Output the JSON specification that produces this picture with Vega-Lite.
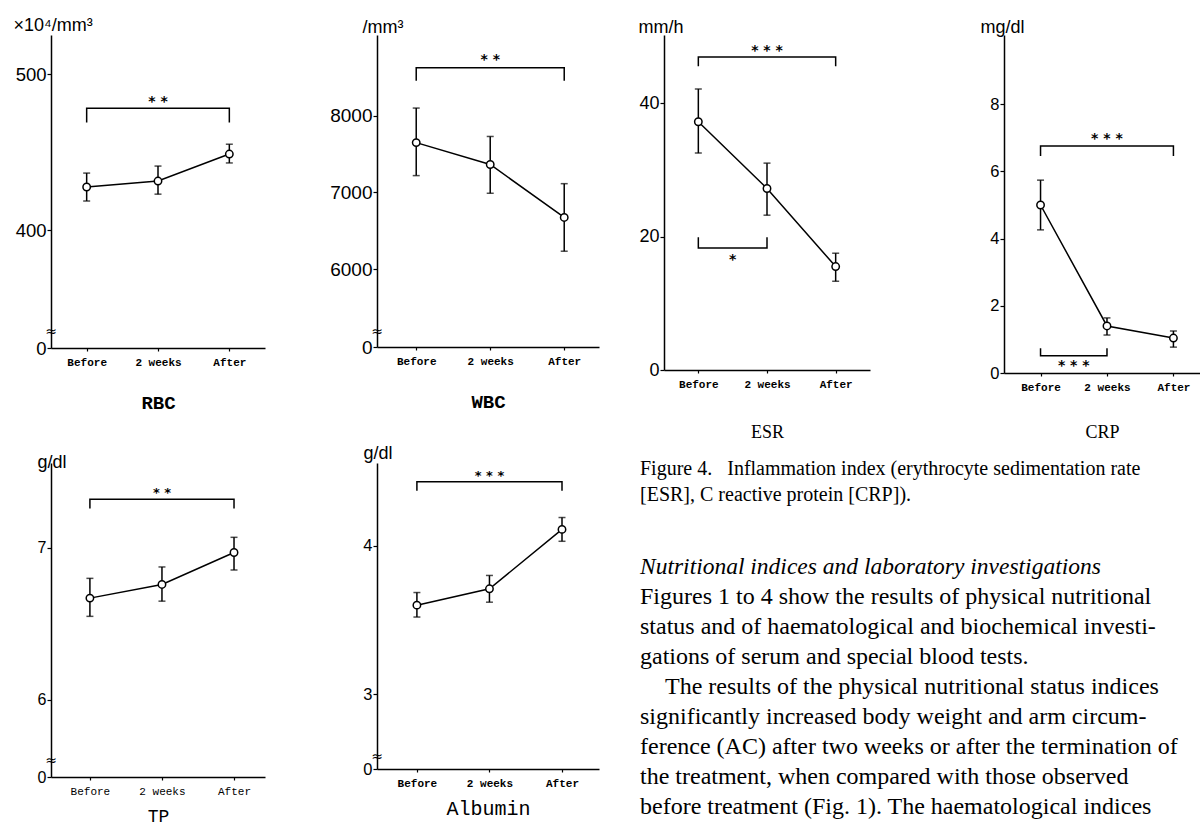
{
"$schema": "https://vega.github.io/schema/vega-lite/v6.json",
"padding": {"left": 13, "top": 16, "right": 0, "bottom": 0},
"background": "white",
"config": {
  "view": {"stroke": null},
  "axis": {"grid": false, "domainColor": "black", "domainWidth": 1.5, "tickColor": "black", "tickWidth": 1.2, "labelColor": "black", "titleColor": "black", "labelFont": "Liberation Sans", "titleFont": "Liberation Sans", "titleFontWeight": "normal"},
  "axisY": {"tickSize": 4, "labelPadding": 1, "labelFontSize": 18, "titleAngle": 0, "titleAlign": "left", "titleBaseline": "middle", "titleFontSize": 18},
  "axisX": {"tickSize": 3, "labelPadding": 5, "labelFont": "Liberation Mono", "labelFontWeight": "bold", "labelFontSize": 11, "labelBaseline": "top", "labelFlush": false}
},
"datasets": {
  "pts": [
    {"p": "RBC", "t": 0, "y": 427.6}, {"p": "RBC", "t": 1, "y": 431.4}, {"p": "RBC", "t": 2, "y": 448.7},
    {"p": "WBC", "t": 0, "y": 7650}, {"p": "WBC", "t": 1, "y": 7365}, {"p": "WBC", "t": 2, "y": 6675},
    {"p": "ESR", "t": 0, "y": 37.2}, {"p": "ESR", "t": 1, "y": 27.2}, {"p": "ESR", "t": 2, "y": 15.5},
    {"p": "CRP", "t": 0, "y": 5.0}, {"p": "CRP", "t": 1, "y": 1.4}, {"p": "CRP", "t": 2, "y": 1.04},
    {"p": "TP", "t": 0, "y": 6.67}, {"p": "TP", "t": 1, "y": 6.76}, {"p": "TP", "t": 2, "y": 6.97},
    {"p": "ALB", "t": 0, "y": 3.6}, {"p": "ALB", "t": 1, "y": 3.71}, {"p": "ALB", "t": 2, "y": 4.11}
  ],
  "eb": [
    {"p": "RBC", "t": 0, "y": 418.6, "y2": 436.5}, {"p": "RBC", "t": 1, "y": 423, "y2": 441}, {"p": "RBC", "t": 2, "y": 443, "y2": 455},
    {"p": "WBC", "t": 0, "y": 7220, "y2": 8100}, {"p": "WBC", "t": 1, "y": 6990, "y2": 7730}, {"p": "WBC", "t": 2, "y": 6235, "y2": 7115},
    {"p": "ESR", "t": 0, "y": 32.5, "y2": 42.1}, {"p": "ESR", "t": 1, "y": 23.2, "y2": 31.0}, {"p": "ESR", "t": 2, "y": 13.3, "y2": 17.5},
    {"p": "CRP", "t": 0, "y": 4.26, "y2": 5.74}, {"p": "CRP", "t": 1, "y": 1.13, "y2": 1.64}, {"p": "CRP", "t": 2, "y": 0.77, "y2": 1.25},
    {"p": "TP", "t": 0, "y": 6.55, "y2": 6.8}, {"p": "TP", "t": 1, "y": 6.65, "y2": 6.875}, {"p": "TP", "t": 2, "y": 6.855, "y2": 7.07},
    {"p": "ALB", "t": 0, "y": 3.52, "y2": 3.685}, {"p": "ALB", "t": 1, "y": 3.62, "y2": 3.8}, {"p": "ALB", "t": 2, "y": 4.03, "y2": 4.19}
  ],
  "br": [
    {"p": "RBC", "b": 1, "k": 0, "t": 0, "y": 469}, {"p": "RBC", "b": 1, "k": 1, "t": 0, "y": 478}, {"p": "RBC", "b": 1, "k": 2, "t": 2, "y": 478}, {"p": "RBC", "b": 1, "k": 3, "t": 2, "y": 469},
    {"p": "WBC", "b": 1, "k": 0, "t": 0, "y": 8455}, {"p": "WBC", "b": 1, "k": 1, "t": 0, "y": 8625}, {"p": "WBC", "b": 1, "k": 2, "t": 2, "y": 8625}, {"p": "WBC", "b": 1, "k": 3, "t": 2, "y": 8455},
    {"p": "ESR", "b": 1, "k": 0, "t": 0, "y": 45.5}, {"p": "ESR", "b": 1, "k": 1, "t": 0, "y": 46.9}, {"p": "ESR", "b": 1, "k": 2, "t": 2, "y": 46.9}, {"p": "ESR", "b": 1, "k": 3, "t": 2, "y": 45.5},
    {"p": "ESR", "b": 2, "k": 0, "t": 0, "y": 19.9}, {"p": "ESR", "b": 2, "k": 1, "t": 0, "y": 18.3}, {"p": "ESR", "b": 2, "k": 2, "t": 1, "y": 18.3}, {"p": "ESR", "b": 2, "k": 3, "t": 1, "y": 19.9},
    {"p": "CRP", "b": 1, "k": 0, "t": 0, "y": 6.46}, {"p": "CRP", "b": 1, "k": 1, "t": 0, "y": 6.76}, {"p": "CRP", "b": 1, "k": 2, "t": 2, "y": 6.76}, {"p": "CRP", "b": 1, "k": 3, "t": 2, "y": 6.46},
    {"p": "CRP", "b": 2, "k": 0, "t": 0, "y": 0.74}, {"p": "CRP", "b": 2, "k": 1, "t": 0, "y": 0.51}, {"p": "CRP", "b": 2, "k": 2, "t": 1, "y": 0.51}, {"p": "CRP", "b": 2, "k": 3, "t": 1, "y": 0.74},
    {"p": "TP", "b": 1, "k": 0, "t": 0, "y": 7.26}, {"p": "TP", "b": 1, "k": 1, "t": 0, "y": 7.32}, {"p": "TP", "b": 1, "k": 2, "t": 2, "y": 7.32}, {"p": "TP", "b": 1, "k": 3, "t": 2, "y": 7.26},
    {"p": "ALB", "b": 1, "k": 0, "t": 0, "y": 4.37}, {"p": "ALB", "b": 1, "k": 1, "t": 0, "y": 4.43}, {"p": "ALB", "b": 1, "k": 2, "t": 2, "y": 4.43}, {"p": "ALB", "b": 1, "k": 3, "t": 2, "y": 4.37}
  ],
  "st": [
    {"p": "RBC", "t": 1, "y": 482, "s": "* *"},
    {"p": "WBC", "t": 1, "y": 8720, "s": "* *"},
    {"p": "ESR", "t": 1, "y": 47.8, "s": "* * *"},
    {"p": "ESR", "t": 0.5, "y": 16.5, "s": "*"},
    {"p": "CRP", "t": 1, "y": 6.96, "s": "* * *"},
    {"p": "CRP", "t": 0.5, "y": 0.21, "s": "* * *"},
    {"p": "TP", "t": 1, "y": 7.36, "s": "* *"},
    {"p": "ALB", "t": 1, "y": 4.47, "s": "* * *"}
  ],
  "brk": [
    {"p": "RBC", "t": -0.5, "y": 334.6},
    {"p": "WBC", "t": -0.53, "y": 5182},
    {"p": "TP", "t": -0.54, "y": 5.6},
    {"p": "ALB", "t": -0.55, "y": 2.58}
  ],
  "txt": [
    {"line": 0, "style": "italic", "text": "Nutritional indices and laboratory investigations"},
    {"line": 1, "style": "normal", "text": "Figures 1 to 4 show the results of physical nutritional"},
    {"line": 2, "style": "normal", "text": "status and of haematological and biochemical investi-"},
    {"line": 3, "style": "normal", "text": "gations of serum and special blood tests."},
    {"line": 4, "style": "indent", "text": "The results of the physical nutritional status indices"},
    {"line": 5, "style": "normal", "text": "significantly increased body weight and arm circum-"},
    {"line": 6, "style": "normal", "text": "ference (AC) after two weeks or after the termination of"},
    {"line": 7, "style": "normal", "text": "the treatment, when compared with those observed"},
    {"line": 8, "style": "normal", "text": "before treatment (Fig. 1). The haematological indices"}
  ]
},
"columns": 8,
"bounds": "flush",
"align": "each",
"spacing": {"row": 90, "column": 0},
"concat": [
  {
    "width": 214, "height": 313,
    "encoding": {
      "x": {"field": "t", "type": "quantitative", "scale": {"domain": [-0.5, 2.5], "nice": false, "zero": false}, "axis": {"values": [0, 1, 2], "labelExpr": "['Before','2 weeks','After'][datum.value]", "title": "RBC", "titleFont": "Liberation Mono", "titleFontSize": 19, "titleFontWeight": "bold", "titlePadding": 26}},
      "y": {"field": "y", "type": "quantitative", "scale": {"domain": [324.4, 525], "nice": false, "zero": false}, "axis": {"values": [324.4, 400, 500], "labelExpr": "datum.value<390?'0':format(datum.value,'d')", "title": "×10⁴/mm³", "titleX": -38, "titleY": -10, "labelFontSize": 18.5}}
    },
    "layer": [
      {"data": {"name": "eb"}, "transform": [{"filter": "datum.p==='RBC'"}], "mark": {"type": "rule", "color": "black", "strokeWidth": 1.5}, "encoding": {"y2": {"field": "y2"}}},
      {"data": {"name": "eb"}, "transform": [{"filter": "datum.p==='RBC'"}, {"fold": ["y", "y2"], "as": ["cap", "y"]}], "mark": {"type": "tick", "orient": "horizontal", "size": 7, "thickness": 1.5, "color": "black"}},
      {"data": {"name": "pts"}, "transform": [{"filter": "datum.p==='RBC'"}], "mark": {"type": "line", "color": "black", "strokeWidth": 1.5}},
      {"data": {"name": "pts"}, "transform": [{"filter": "datum.p==='RBC'"}], "mark": {"type": "point", "shape": "circle", "filled": true, "fill": "white", "stroke": "black", "strokeWidth": 1.5, "size": 55, "opacity": 1}},
      {"data": {"name": "br"}, "transform": [{"filter": "datum.p==='RBC'"}], "mark": {"type": "line", "color": "black", "strokeWidth": 1.5}, "encoding": {"detail": {"field": "b"}, "order": {"field": "k"}}},
      {"data": {"name": "st"}, "transform": [{"filter": "datum.p==='RBC'"}], "mark": {"type": "text", "font": "DejaVu Sans", "fontWeight": "bold", "fontSize": 14, "baseline": "middle", "color": "black"}, "encoding": {"text": {"field": "s"}}},
      {"data": {"name": "brk"}, "transform": [{"filter": "datum.p==='RBC'"}], "mark": {"type": "text", "font": "DejaVu Sans", "fontSize": 14, "baseline": "middle", "color": "black"}, "encoding": {"text": {"value": "≈"}}}
    ]
  },
  {"width": 112, "height": 10, "data": {"values": []}, "mark": "point"},
  {
    "width": 222, "height": 312,
    "encoding": {
      "x": {"field": "t", "type": "quantitative", "scale": {"domain": [-0.53, 2.47], "nice": false, "zero": false}, "axis": {"values": [0, 1, 2], "labelExpr": "['Before','2 weeks','After'][datum.value]", "title": "WBC", "titleFont": "Liberation Mono", "titleFontSize": 19, "titleFontWeight": "bold", "titlePadding": 26}},
      "y": {"field": "y", "type": "quantitative", "scale": {"domain": [4987, 9052], "nice": false, "zero": false}, "axis": {"values": [4987, 6000, 7000, 8000], "labelExpr": "datum.value<5500?'0':format(datum.value,'d')", "title": "/mm³", "titleX": -15, "titleY": -8, "labelFontSize": 19}}
    },
    "layer": [
      {"data": {"name": "eb"}, "transform": [{"filter": "datum.p==='WBC'"}], "mark": {"type": "rule", "color": "black", "strokeWidth": 1.5}, "encoding": {"y2": {"field": "y2"}}},
      {"data": {"name": "eb"}, "transform": [{"filter": "datum.p==='WBC'"}, {"fold": ["y", "y2"], "as": ["cap", "y"]}], "mark": {"type": "tick", "orient": "horizontal", "size": 7, "thickness": 1.5, "color": "black"}},
      {"data": {"name": "pts"}, "transform": [{"filter": "datum.p==='WBC'"}], "mark": {"type": "line", "color": "black", "strokeWidth": 1.5}},
      {"data": {"name": "pts"}, "transform": [{"filter": "datum.p==='WBC'"}], "mark": {"type": "point", "shape": "circle", "filled": true, "fill": "white", "stroke": "black", "strokeWidth": 1.5, "size": 55, "opacity": 1}},
      {"data": {"name": "br"}, "transform": [{"filter": "datum.p==='WBC'"}], "mark": {"type": "line", "color": "black", "strokeWidth": 1.5}, "encoding": {"detail": {"field": "b"}, "order": {"field": "k"}}},
      {"data": {"name": "st"}, "transform": [{"filter": "datum.p==='WBC'"}], "mark": {"type": "text", "font": "DejaVu Sans", "fontWeight": "bold", "fontSize": 14, "baseline": "middle", "color": "black"}, "encoding": {"text": {"field": "s"}}},
      {"data": {"name": "brk"}, "transform": [{"filter": "datum.p==='WBC'"}], "mark": {"type": "text", "font": "DejaVu Sans", "fontSize": 14, "baseline": "middle", "color": "black"}, "encoding": {"text": {"value": "≈"}}}
    ]
  },
  {"width": 41, "height": 10, "data": {"values": []}, "mark": "point"},
  {"width": 24, "height": 10, "data": {"values": []}, "mark": "point"},
  {
    "width": 206, "height": 335,
    "encoding": {
      "x": {"field": "t", "type": "quantitative", "scale": {"domain": [-0.5, 2.5], "nice": false, "zero": false}, "axis": {"values": [0, 1, 2], "labelExpr": "['Before','2 weeks','After'][datum.value]", "title": "ESR", "titleFont": "Liberation Serif", "titleFontSize": 18, "titleFontWeight": "normal", "titlePadding": 34}},
      "y": {"field": "y", "type": "quantitative", "scale": {"domain": [0, 50.2], "nice": false, "zero": false}, "axis": {"values": [0, 20, 40], "labelExpr": "format(datum.value,'d')", "title": "mm/h", "titleX": -26, "titleY": -8}}
    },
    "layer": [
      {"data": {"name": "eb"}, "transform": [{"filter": "datum.p==='ESR'"}], "mark": {"type": "rule", "color": "black", "strokeWidth": 1.5}, "encoding": {"y2": {"field": "y2"}}},
      {"data": {"name": "eb"}, "transform": [{"filter": "datum.p==='ESR'"}, {"fold": ["y", "y2"], "as": ["cap", "y"]}], "mark": {"type": "tick", "orient": "horizontal", "size": 7, "thickness": 1.5, "color": "black"}},
      {"data": {"name": "pts"}, "transform": [{"filter": "datum.p==='ESR'"}], "mark": {"type": "line", "color": "black", "strokeWidth": 1.5}},
      {"data": {"name": "pts"}, "transform": [{"filter": "datum.p==='ESR'"}], "mark": {"type": "point", "shape": "circle", "filled": true, "fill": "white", "stroke": "black", "strokeWidth": 1.5, "size": 55, "opacity": 1}},
      {"data": {"name": "br"}, "transform": [{"filter": "datum.p==='ESR'"}], "mark": {"type": "line", "color": "black", "strokeWidth": 1.5}, "encoding": {"detail": {"field": "b"}, "order": {"field": "k"}}},
      {"data": {"name": "st"}, "transform": [{"filter": "datum.p==='ESR'"}], "mark": {"type": "text", "font": "DejaVu Sans", "fontWeight": "bold", "fontSize": 14, "baseline": "middle", "color": "black"}, "encoding": {"text": {"field": "s"}}}
    ]
  },
  {"width": 134, "height": 10, "data": {"values": []}, "mark": "point"},
  {
    "width": 196, "height": 338,
    "encoding": {
      "x": {"field": "t", "type": "quantitative", "scale": {"domain": [-0.55, 2.4], "nice": false, "zero": false}, "axis": {"values": [0, 1, 2], "labelExpr": "['Before','2 weeks','After'][datum.value]", "title": "CRP", "titleFont": "Liberation Serif", "titleFontSize": 18, "titleFontWeight": "normal", "titlePadding": 31}},
      "y": {"field": "y", "type": "quantitative", "scale": {"domain": [0, 10.06], "nice": false, "zero": false}, "axis": {"values": [0, 2, 4, 6, 8], "labelExpr": "format(datum.value,'d')", "title": "mg/dl", "titleX": -24, "titleY": -8, "labelFontSize": 16.5}}
    },
    "layer": [
      {"data": {"name": "eb"}, "transform": [{"filter": "datum.p==='CRP'"}], "mark": {"type": "rule", "color": "black", "strokeWidth": 1.5}, "encoding": {"y2": {"field": "y2"}}},
      {"data": {"name": "eb"}, "transform": [{"filter": "datum.p==='CRP'"}, {"fold": ["y", "y2"], "as": ["cap", "y"]}], "mark": {"type": "tick", "orient": "horizontal", "size": 7, "thickness": 1.5, "color": "black"}},
      {"data": {"name": "pts"}, "transform": [{"filter": "datum.p==='CRP'"}], "mark": {"type": "line", "color": "black", "strokeWidth": 1.5}},
      {"data": {"name": "pts"}, "transform": [{"filter": "datum.p==='CRP'"}], "mark": {"type": "point", "shape": "circle", "filled": true, "fill": "white", "stroke": "black", "strokeWidth": 1.5, "size": 55, "opacity": 1}},
      {"data": {"name": "br"}, "transform": [{"filter": "datum.p==='CRP'"}], "mark": {"type": "line", "color": "black", "strokeWidth": 1.5}, "encoding": {"detail": {"field": "b"}, "order": {"field": "k"}}},
      {"data": {"name": "st"}, "transform": [{"filter": "datum.p==='CRP'"}], "mark": {"type": "text", "font": "DejaVu Sans", "fontWeight": "bold", "fontSize": 14, "baseline": "middle", "color": "black"}, "encoding": {"text": {"field": "s"}}}
    ]
  },
  {
    "width": 214, "height": 314,
    "encoding": {
      "x": {"field": "t", "type": "quantitative", "scale": {"domain": [-0.54, 2.43], "nice": false, "zero": false}, "axis": {"values": [0, 1, 2], "labelExpr": "['Before','2 weeks','After'][datum.value]", "title": "TP", "titleFont": "Liberation Mono", "titleFontSize": 18, "titleFontWeight": "normal", "titlePadding": 11, "labelFontWeight": "normal"}},
      "y": {"field": "y", "type": "quantitative", "scale": {"domain": [5.493, 7.559], "nice": false, "zero": false}, "axis": {"values": [5.493, 6, 7], "labelExpr": "datum.value<5.9?'0':format(datum.value,'d')", "title": "g/dl", "titleX": -14, "titleY": -1, "labelFontSize": 16}}
    },
    "layer": [
      {"data": {"name": "eb"}, "transform": [{"filter": "datum.p==='TP'"}], "mark": {"type": "rule", "color": "black", "strokeWidth": 1.5}, "encoding": {"y2": {"field": "y2"}}},
      {"data": {"name": "eb"}, "transform": [{"filter": "datum.p==='TP'"}, {"fold": ["y", "y2"], "as": ["cap", "y"]}], "mark": {"type": "tick", "orient": "horizontal", "size": 7, "thickness": 1.5, "color": "black"}},
      {"data": {"name": "pts"}, "transform": [{"filter": "datum.p==='TP'"}], "mark": {"type": "line", "color": "black", "strokeWidth": 1.5}},
      {"data": {"name": "pts"}, "transform": [{"filter": "datum.p==='TP'"}], "mark": {"type": "point", "shape": "circle", "filled": true, "fill": "white", "stroke": "black", "strokeWidth": 1.5, "size": 55, "opacity": 1}},
      {"data": {"name": "br"}, "transform": [{"filter": "datum.p==='TP'"}], "mark": {"type": "line", "color": "black", "strokeWidth": 1.5}, "encoding": {"detail": {"field": "b"}, "order": {"field": "k"}}},
      {"data": {"name": "st"}, "transform": [{"filter": "datum.p==='TP'"}], "mark": {"type": "text", "font": "DejaVu Sans", "fontWeight": "bold", "fontSize": 13, "baseline": "middle", "color": "black"}, "encoding": {"text": {"field": "s"}}},
      {"data": {"name": "brk"}, "transform": [{"filter": "datum.p==='TP'"}], "mark": {"type": "text", "font": "DejaVu Sans", "fontSize": 14, "baseline": "middle", "color": "black"}, "encoding": {"text": {"value": "≈"}}}
    ]
  },
  {"width": 112, "height": 10, "data": {"values": []}, "mark": "point"},
  {
    "width": 222, "height": 306,
    "encoding": {
      "x": {"field": "t", "type": "quantitative", "scale": {"domain": [-0.55, 2.51], "nice": false, "zero": false}, "axis": {"values": [0, 1, 2], "labelExpr": "['Before','2 weeks','After'][datum.value]", "title": "Albumin", "titleFont": "Liberation Mono", "titleFontSize": 20, "titleFontWeight": "normal", "titlePadding": 10}},
      "y": {"field": "y", "type": "quantitative", "scale": {"domain": [2.497, 4.557], "nice": false, "zero": false}, "axis": {"values": [2.497, 3, 4], "labelExpr": "datum.value<2.9?'0':format(datum.value,'d')", "title": "g/dl", "titleX": -14, "titleY": -10, "labelFontSize": 16.5}}
    },
    "layer": [
      {"data": {"name": "eb"}, "transform": [{"filter": "datum.p==='ALB'"}], "mark": {"type": "rule", "color": "black", "strokeWidth": 1.5}, "encoding": {"y2": {"field": "y2"}}},
      {"data": {"name": "eb"}, "transform": [{"filter": "datum.p==='ALB'"}, {"fold": ["y", "y2"], "as": ["cap", "y"]}], "mark": {"type": "tick", "orient": "horizontal", "size": 7, "thickness": 1.5, "color": "black"}},
      {"data": {"name": "pts"}, "transform": [{"filter": "datum.p==='ALB'"}], "mark": {"type": "line", "color": "black", "strokeWidth": 1.5}},
      {"data": {"name": "pts"}, "transform": [{"filter": "datum.p==='ALB'"}], "mark": {"type": "point", "shape": "circle", "filled": true, "fill": "white", "stroke": "black", "strokeWidth": 1.5, "size": 55, "opacity": 1}},
      {"data": {"name": "br"}, "transform": [{"filter": "datum.p==='ALB'"}], "mark": {"type": "line", "color": "black", "strokeWidth": 1.5}, "encoding": {"detail": {"field": "b"}, "order": {"field": "k"}}},
      {"data": {"name": "st"}, "transform": [{"filter": "datum.p==='ALB'"}], "mark": {"type": "text", "font": "DejaVu Sans", "fontWeight": "bold", "fontSize": 13, "baseline": "middle", "color": "black"}, "encoding": {"text": {"field": "s"}}},
      {"data": {"name": "brk"}, "transform": [{"filter": "datum.p==='ALB'"}], "mark": {"type": "text", "font": "DejaVu Sans", "fontSize": 14, "baseline": "middle", "color": "black"}, "encoding": {"text": {"value": "≈"}}}
    ]
  },
  {"width": 41, "height": 10, "data": {"values": []}, "mark": "point"},
  {
    "width": 24, "height": 344,
    "title": {"text": ["Figure 4.\u00a0\u00a0 Inflammation index (erythrocyte sedimentation rate", "[ESR], C reactive protein [CRP])."], "anchor": "start", "frame": "group", "font": "Liberation Serif", "fontSize": 20, "fontWeight": "normal", "lineHeight": 26, "baseline": "top", "offset": 3, "dy": 45, "limit": 561, "color": "black"},
    "data": {"name": "txt"},
    "encoding": {
      "y": {"field": "line", "type": "quantitative", "scale": {"domain": [-3.45, 8], "reverse": true, "nice": false, "zero": false}, "axis": null},
      "x": {"datum": 0, "type": "quantitative", "scale": {"domain": [0, 1], "nice": false, "zero": false}, "axis": null},
      "text": {"field": "text"}
    },
    "layer": [
      {"transform": [{"filter": "datum.style==='italic'"}], "mark": {"type": "text", "align": "left", "baseline": "middle", "font": "Liberation Serif", "fontSize": 23.5, "fontStyle": "italic", "limit": 561, "ellipsis": "", "color": "black"}},
      {"transform": [{"filter": "datum.style==='normal'"}], "mark": {"type": "text", "align": "left", "baseline": "middle", "font": "Liberation Serif", "fontSize": 24, "limit": 561, "ellipsis": "", "color": "black"}},
      {"transform": [{"filter": "datum.style==='indent'"}], "mark": {"type": "text", "align": "left", "baseline": "middle", "dx": 25, "font": "Liberation Serif", "fontSize": 24, "limit": 536, "ellipsis": "", "color": "black"}}
    ]
  }
]
}
